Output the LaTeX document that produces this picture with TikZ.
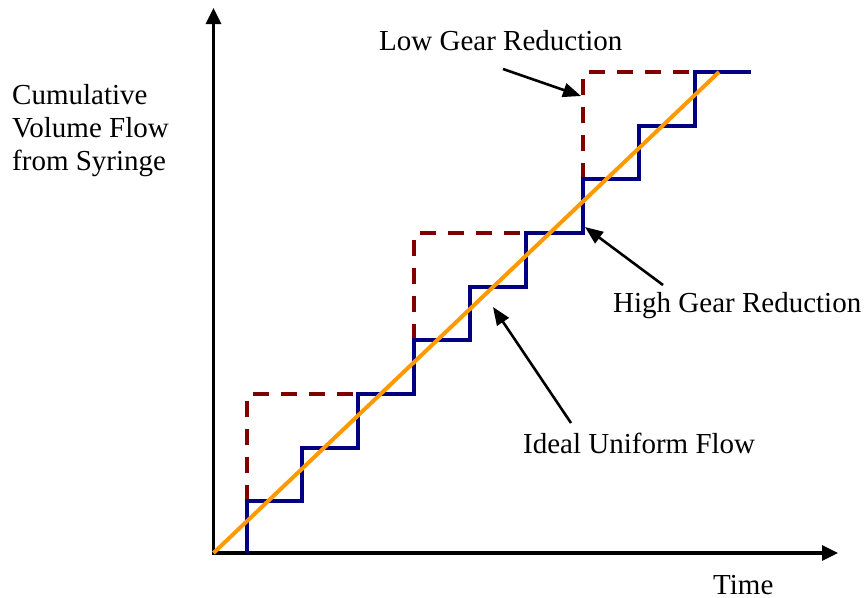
\documentclass[tikz,border=0pt]{standalone}
\usepackage{fontspec}
\setmainfont{Liberation Serif}
\usetikzlibrary{arrows.meta}
\definecolor{lowred}{RGB}{128,0,0}
\definecolor{highblue}{RGB}{0,0,128}
\definecolor{idealorange}{RGB}{255,153,0}
\begin{document}
\begin{tikzpicture}[x=1pt,y=-1pt,
  axis/.style={line width=3.2pt,{Triangle[length=16pt,width=15pt]}-{Triangle[length=16pt,width=15pt]}},
  lowgear/.style={draw=lowred,line width=4pt,dash pattern=on 16pt off 12pt},
  highgear/.style={draw=highblue,line width=3.4pt},
  ideal/.style={draw=idealorange,line width=4pt},
  callout/.style={line width=2.6pt,-{Triangle[length=18pt,width=14pt]}},
  lbl/.style={inner sep=0pt,anchor=base west,font=\fontsize{29}{33}\selectfont}]
\useasboundingbox (0,0) rectangle (867,597);

% axes
\coordinate (O) at (213.5,553);
\coordinate (ytop) at (213.5,8);
\coordinate (xend) at (838,553);
\draw[axis] (ytop) -- (O) -- (xend);

% low gear reduction (dashed), three big steps
\foreach \dx/\dy in {0/0,167/-161,336/-322}{
  \begin{scope}[shift={(\dx,\dy)}]
    \draw[lowgear] (247,501) -- (247,399);
    \draw[lowgear] (253,394) -- (358,394);
  \end{scope}
}

% high gear reduction staircase
\draw[highgear] (247,553) -- (247,501) -- (302,501) -- (302,448) -- (358,448)
  -- (358,394) -- (414,394) -- (414,340) -- (470,340) -- (470,287) -- (526,287)
  -- (526,233) -- (583,233) -- (583,179) -- (639,179) -- (639,126) -- (695,126)
  -- (695,72) -- (751,72);

% ideal uniform flow
\coordinate (iend) at (719,72);
\draw[ideal] (O) -- (iend);

% labels (base anchor of a multi-line node is its last line)
\node[lbl,align=left] (yl) at (12,170) {Cumulative\\Volume Flow\\from Syringe};
\node[lbl] (tl) at (713,594) {Time};
\node[lbl] (lowl) at (379,50) {Low Gear Reduction};
\node[lbl] (highl) at (613,312) {High Gear Reduction};
\node[lbl] (ideall) at (523,453) {Ideal Uniform Flow};

% callout arrows
\coordinate (lowA) at (503,69);  \coordinate (lowB) at (581,96);
\coordinate (highA) at (663,285); \coordinate (highB) at (585,227);
\coordinate (idA) at (571,423);  \coordinate (idB) at (493,307);
\draw[callout] (lowA) -- (lowB);
\draw[callout] (highA) -- (highB);
\draw[callout] (idA) -- (idB);
\end{tikzpicture}
\end{document}
